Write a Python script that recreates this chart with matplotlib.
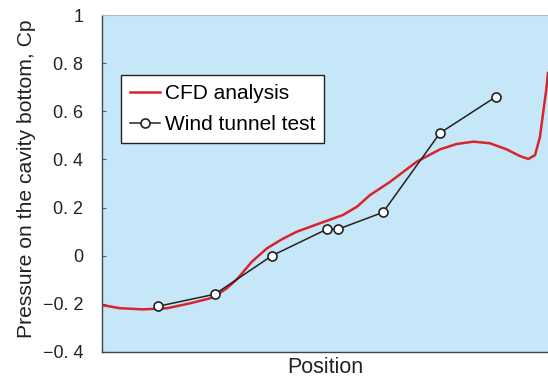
import matplotlib
matplotlib.use("Agg")
import matplotlib.pyplot as plt

plt.rcParams.update({
    'font.family': ['Liberation Sans', 'DejaVu Sans'],
    'font.size': 13,
})

# ----------------------------
# Data
# ----------------------------
cfd_x = [0.000, 0.040, 0.092, 0.146, 0.197, 0.242, 0.261, 0.280, 0.303, 0.336,
         0.370, 0.404, 0.437, 0.504, 0.540, 0.572, 0.601, 0.646, 0.706, 0.758,
         0.795, 0.833, 0.870, 0.907, 0.937, 0.956, 0.971, 0.982, 0.989, 0.996, 1.000]
cfd_cp = [-0.205, -0.218, -0.223, -0.218, -0.198, -0.177, -0.159, -0.135, -0.097, -0.025,
          0.031, 0.069, 0.100, 0.145, 0.169, 0.204, 0.252, 0.307, 0.391, 0.442,
          0.464, 0.474, 0.467, 0.442, 0.414, 0.402, 0.418, 0.494, 0.592, 0.688, 0.759]

wind_x = [0.126, 0.253, 0.381, 0.504, 0.529, 0.630, 0.758, 0.883]
wind_cp = [-0.21, -0.16, 0.00, 0.11, 0.11, 0.18, 0.51, 0.66]

yticks = [-0.4, -0.2, 0.0, 0.2, 0.4, 0.6, 0.8, 1.0]
ytick_labels = ["\u22120. 4", "\u22120. 2", "0", "0. 2", "0. 4", "0. 6", "0. 8", "1"]

# ----------------------------
# Plot
# ----------------------------
fig = plt.figure(figsize=(5.48, 3.78), dpi=100)
ax = fig.add_axes([102 / 548, 26 / 378, 446 / 548, 337 / 378])
ax.set_facecolor('#c6e7f7')

ax.plot(cfd_x, cfd_cp, color='#d9232d', linewidth=1.8, label='CFD analysis', zorder=2)
ax.plot(wind_x, wind_cp, color='#222222', linewidth=1.1, marker='o', markersize=6.5,
        markerfacecolor='white', markeredgecolor='#222222', markeredgewidth=1.2,
        label='Wind tunnel test', zorder=3)

ax.set_xlim(0, 1)
ax.set_ylim(-0.4, 1.0)
ax.set_xticks([])
ax.set_yticks(yticks, labels=ytick_labels)
ax.tick_params(axis='y', direction='in', length=3, width=0.8, color='#555555',
               pad=13.5, labelsize=13, labelcolor='#222222')

for side in ['left', 'bottom']:
    ax.spines[side].set_color('#444444')
    ax.spines[side].set_linewidth(1.0)
ax.spines['top'].set_color('#bbbbbb')
ax.spines['top'].set_linewidth(0.8)
ax.spines['right'].set_visible(False)

ax.set_xlabel("Position", fontsize=15.5, color='#222222', labelpad=3.5)
ax.set_ylabel("Pressure on the cavity bottom, Cp", fontsize=15.2, color='#222222')
ax.yaxis.set_label_coords(-0.148, 0.515)

leg = ax.legend(loc='upper left', bbox_to_anchor=(0.0426, 0.822), fontsize=15,
                frameon=True, fancybox=False, framealpha=1, edgecolor='#222222',
                handlelength=1.4, handletextpad=0.25, borderpad=0.45,
                labelspacing=0.55, borderaxespad=0)
leg.get_frame().set_linewidth(1.0)

plt.savefig("out.png", dpi=100)
